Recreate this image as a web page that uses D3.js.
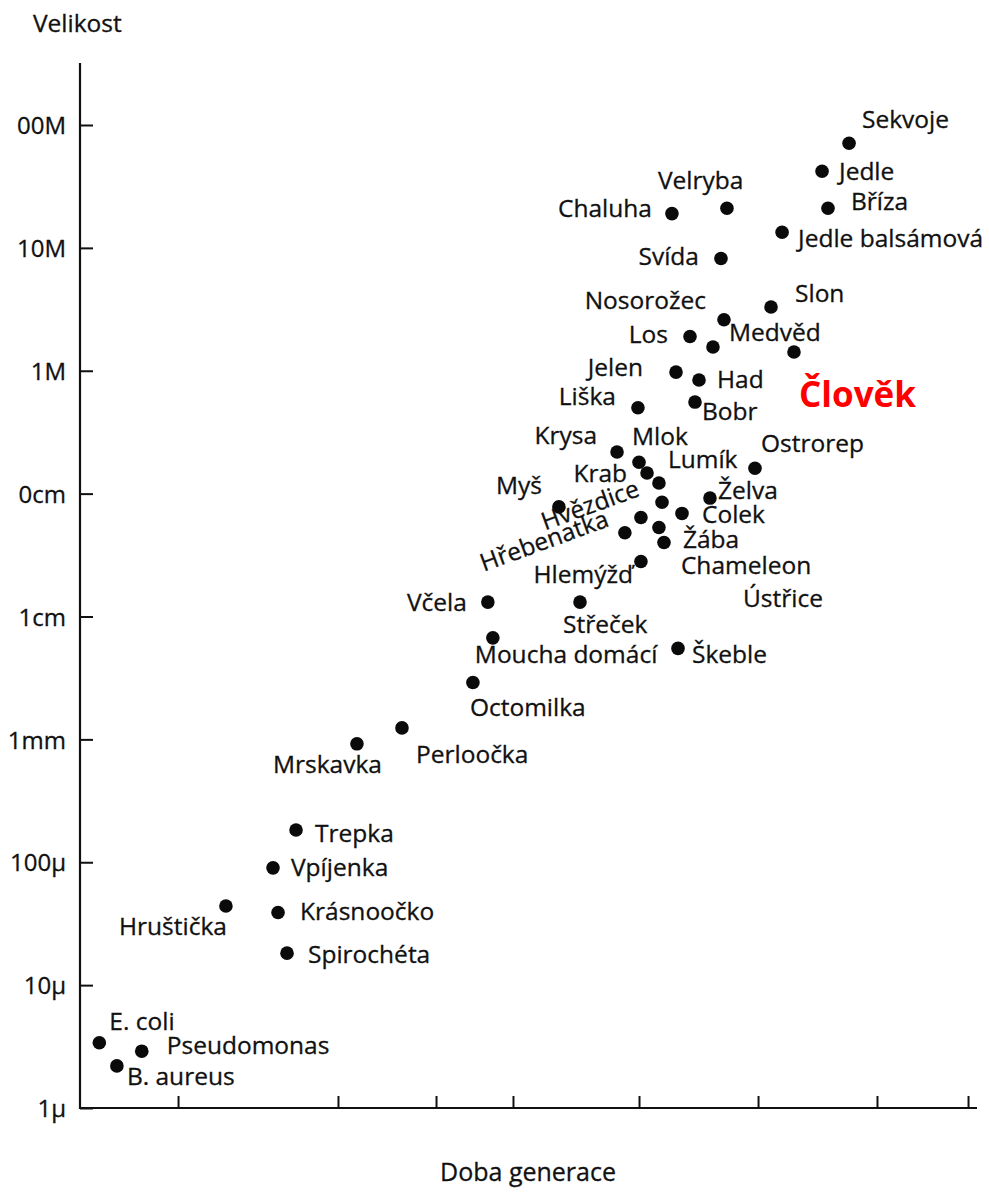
<!DOCTYPE html>
<html>
<head>
<meta charset="utf-8">
<script src="https://cdn.jsdelivr.net/npm/d3@7"></script>
<style>
  body { margin: 0; background: #ffffff; }
  svg text { font-family: "Open Sans", "Noto Sans", sans-serif; fill: #111; stroke: #111; stroke-width: 0.3px; }
</style>
</head>
<body>
<svg id="chart" width="989" height="1194"></svg>
<script>
// Organisms, in drawing order
const organisms = [
  "Sekvoje", "Jedle", "Bříza", "Velryba", "Chaluha", "Jedle balsámová", "Svída",
  "Slon", "Nosorožec", "Los", "Medvěd", "Člověk", "Jelen", "Had", "Bobr", "Liška",
  "Krysa", "Mlok", "Krab", "Lumík", "Ostrorep", "Želva", "Ústřice", "Myš", "Colek",
  "Hvězdice", "Chameleon", "Hřebenatka", "Žába", "Hlemýžď", "Včela", "Střeček",
  "Moucha domácí", "Škeble", "Octomilka", "Perloočka", "Mrskavka", "Trepka",
  "Vpíjenka", "Hruštička", "Krásnoočko", "Spirochéta", "E. coli", "Pseudomonas", "B. aureus"
];

// Generation time (hours)
const generationHours = [
  51050, 30270, 33960, 4581, 1452, 13960, 4042,
  11270, 4304, 2117, 3420, 17580, 1581, 2555, 2350, 721,
  565, 730, 863, 1107, 8222, 3212, 1180, 287, 1791,
  760, 1107, 619, 1230, 760, 89, 367,
  101, 1648, 61, 7.96, 1.85, 0.625,
  0.483, 0.285, 0.511, 0.565, 0.069, 0.111, 0.084
];

// Body size (metres)
const sizeMetres = [
  71, 42, 21, 21, 19, 13.4, 8.2,
  3.3, 2.6, 1.9, 1.56, 1.42, 0.975, 0.84, 0.556, 0.50,
  0.218, 0.18, 0.147, 0.122, 0.161, 0.092, 0.085, 0.078, 0.069,
  0.064, 0.053, 0.048, 0.040, 0.028, 0.0131, 0.0131,
  0.0067, 0.0055, 0.0029, 0.00124, 0.00092, 0.000183,
  0.00009, 0.000044, 0.000039, 0.0000182, 0.0000034, 0.0000029, 0.0000022
];

// Size axis ticks (metres) and their printed labels
const sizeTicks = [1e-6, 1e-5, 1e-4, 1e-3, 1e-2, 1e-1, 1, 10, 100];
const sizeTickLabels = ["1µ", "10µ", "100µ", "1mm", "1cm", "0cm", "1M", "10M", "00M"];

// Generation-time ticks (hours): 10 min, 1 h, 1 day, 1 week, 1 month, 1 year, 10 years, 100 years
const timeTicks = [1 / 6, 1, 24, 168, 730, 8766, 87660, 876600];

const highlighted = "Člověk";

// ---- layout ----
const W = 989, H = 1194;
const plot = { left: 80, right: 977, top: 63, bottom: 1108 };
// where each time tick sits along the horizontal axis (fraction of its length)
const timeTickFractions = [0.1093, 0.2876, 0.3969, 0.4827, 0.6232, 0.7559, 0.8885, 0.99];
const labelSize = 24.5;

// label offsets from each dot: [dx, dy, anchor, rotation]
const labelPlacement = {
  "Sekvoje": [13, -15, "start"],
  "Jedle": [17, 9, "start"],
  "Bříza": [23, 2, "start"],
  "Velryba": [-69, -19, "start"],
  "Chaluha": [-20, 3, "end"],
  "Jedle balsámová": [16, 15, "start"],
  "Svída": [-22, 7, "end"],
  "Slon": [24, -5, "start"],
  "Nosorožec": [-18, -11, "end"],
  "Los": [-22, 7, "end"],
  "Medvěd": [16, -6, "start"],
  "Člověk": [5, 55, "start"],
  "Jelen": [-33, 4, "end"],
  "Had": [18, 8, "start"],
  "Bobr": [7, 18, "start"],
  "Liška": [-22, -3, "end"],
  "Krysa": [-20, -8, "end"],
  "Mlok": [-7, -17, "start"],
  "Krab": [-20, 9, "end"],
  "Lumík": [9, -15, "start"],
  "Ostrorep": [6, -16, "start"],
  "Želva": [8, 1, "start"],
  "Ústřice": [81, 105, "start"],
  "Myš": [-17, -13, "end"],
  "Colek": [20, 10, "start"],
  "Hvězdice": [-96, 13, "start", -20],
  "Chameleon": [22, 46, "start"],
  "Hřebenatka": [-141, 39, "start", -20],
  "Žába": [19, 5, "start"],
  "Hlemýžď": [-8, 21, "end"],
  "Včela": [-21, 9, "end"],
  "Střeček": [-17, 31, "start"],
  "Moucha domácí": [-18, 25, "start"],
  "Škeble": [14, 15, "start"],
  "Octomilka": [-3, 33, "start"],
  "Perloočka": [14, 35, "start"],
  "Mrskavka": [-84, 29, "start"],
  "Trepka": [19, 12, "start"],
  "Vpíjenka": [18, 8, "start"],
  "Hruštička": [1, 29, "end"],
  "Krásnoočko": [22, 8, "start"],
  "Spirochéta": [21, 10, "start"],
  "E. coli": [10, -13, "start"],
  "Pseudomonas": [25, 3, "start"],
  "B. aureus": [10, 19, "start"]
};

const svg = d3.select("#chart");
svg.append("rect").attr("width", W).attr("height", H).attr("fill", "#ffffff");

const axisLen = plot.right - plot.left;
const x = d3.scaleLog()
  .domain(timeTicks)
  .range(timeTickFractions.map(f => plot.left + f * axisLen));

const y = d3.scaleLog()
  .domain([1e-6, 100])
  .range([plot.bottom, 125]);

const points = organisms.map((name, i) => ({
  name, t: generationHours[i], s: sizeMetres[i]
}));

// axes
const yAxis = d3.axisLeft(y)
  .tickValues(sizeTicks)
  .tickFormat((d, i) => sizeTickLabels[i])
  .tickSizeInner(-13)
  .tickSizeOuter(0)
  .tickPadding(14);

const gy = svg.append("g").attr("transform", `translate(${plot.left},0)`).call(yAxis);
gy.select(".domain").remove();
gy.selectAll(".tick line").attr("stroke", "#111").attr("stroke-width", 2);
gy.selectAll(".tick text")
  .attr("font-size", 24)
  .attr("font-family", "'Open Sans', sans-serif")
  .attr("fill", "#111")
  .attr("dy", "0.36em");

const xAxis = d3.axisBottom(x)
  .tickValues(timeTicks)
  .tickFormat("")
  .tickSizeInner(-12)
  .tickSizeOuter(0);

const gx = svg.append("g").attr("transform", `translate(0,${plot.bottom})`).call(xAxis);
gx.select(".domain").remove();
gx.selectAll(".tick line").attr("stroke", "#111").attr("stroke-width", 2);

// axis lines
svg.append("line")
  .attr("x1", plot.left).attr("x2", plot.left)
  .attr("y1", plot.top).attr("y2", plot.bottom + 1)
  .attr("stroke", "#111").attr("stroke-width", 2.2);
svg.append("line")
  .attr("x1", plot.left - 1).attr("x2", plot.right)
  .attr("y1", plot.bottom).attr("y2", plot.bottom)
  .attr("stroke", "#111").attr("stroke-width", 2.2);

// axis titles
svg.append("text")
  .attr("x", 33).attr("y", 32)
  .attr("font-size", 24.5)
  .text("Velikost");
svg.append("text")
  .attr("x", 528).attr("y", 1181)
  .attr("text-anchor", "middle")
  .attr("font-size", 25)
  .text("Doba generace");

// dots
svg.append("g").selectAll("circle")
  .data(points)
  .join("circle")
  .attr("cx", d => x(d.t))
  .attr("cy", d => y(d.s))
  .attr("r", 6.8)
  .attr("fill", "#0a0a0a");

// labels
svg.append("g").selectAll("text")
  .data(points)
  .join("text")
  .each(function (d) {
    const p = labelPlacement[d.name];
    const tx = x(d.t) + p[0], ty = y(d.s) + p[1];
    const sel = d3.select(this)
      .attr("x", tx).attr("y", ty)
      .attr("text-anchor", p[2])
      .text(d.name);
    if (p[3]) sel.attr("transform", `rotate(${p[3]},${tx},${ty})`);
    if (d.name === highlighted) {
      sel.attr("font-size", 35).attr("font-weight", 700)
        .style("fill", "#ff0000").style("stroke", "none");
    } else {
      sel.attr("font-size", labelSize);
    }
  });
</script>
</body>
</html>
